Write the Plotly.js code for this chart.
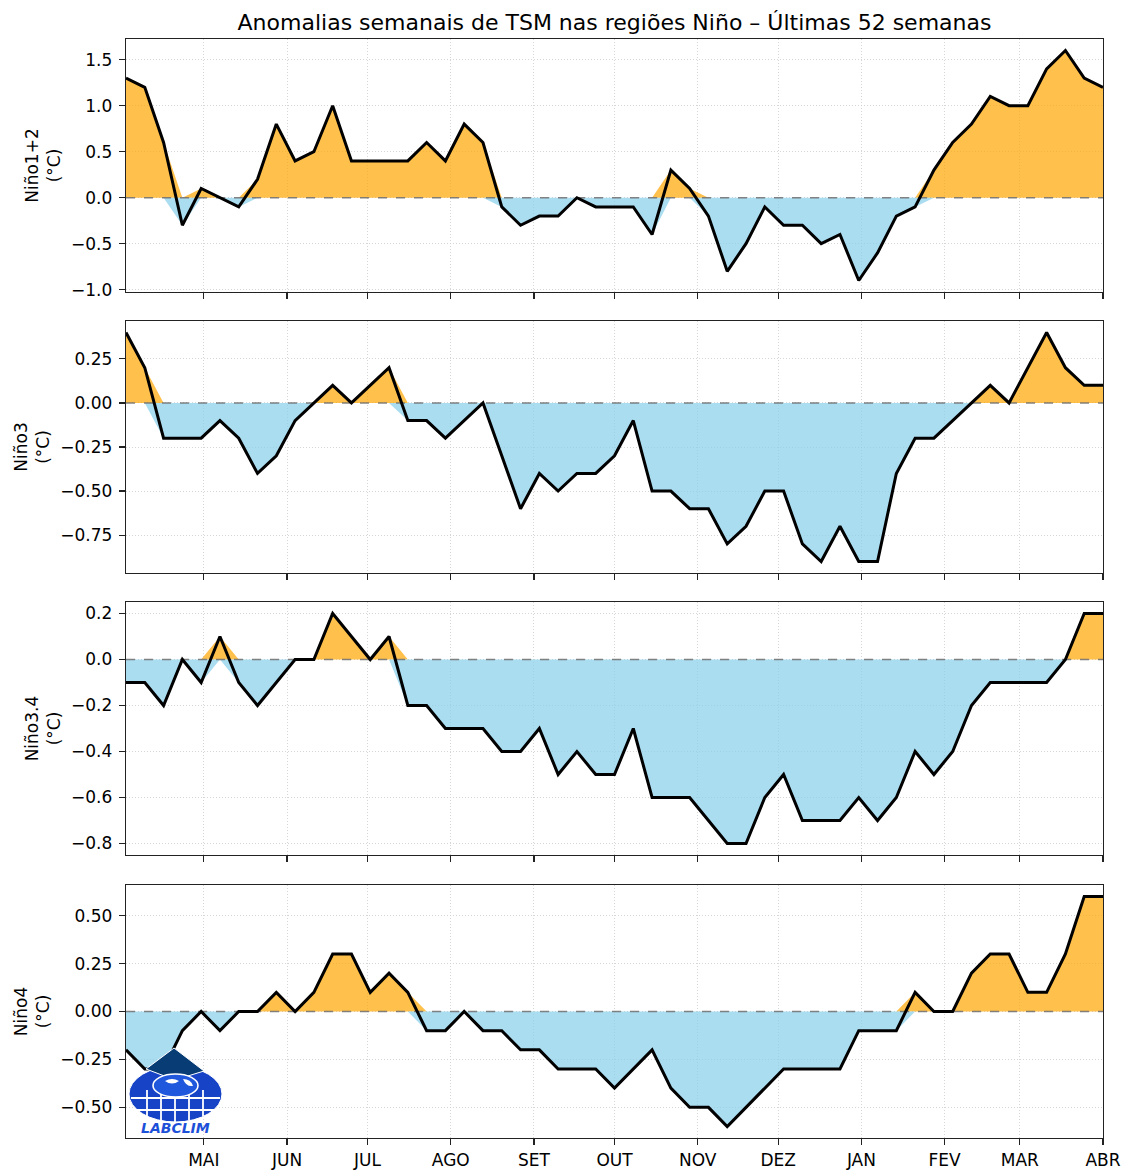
<!DOCTYPE html>
<html>
<head>
<meta charset="utf-8">
<script src="https://cdn.plot.ly/plotly-3.0.1.min.js"></script>
<style>
  html, body { margin: 0; padding: 0; background: #fff; }
  #chart { width: 1123px; height: 1171px; }
</style>
</head>
<body>
<div id="chart"></div>
<script>
// Weekly dates (52 weeks + 1)
const weeks = [
  '2024-04-02','2024-04-09','2024-04-16','2024-04-23','2024-04-30',
  '2024-05-07','2024-05-14','2024-05-21','2024-05-28',
  '2024-06-04','2024-06-11','2024-06-18','2024-06-25',
  '2024-07-02','2024-07-09','2024-07-16','2024-07-23','2024-07-30',
  '2024-08-06','2024-08-13','2024-08-20','2024-08-27',
  '2024-09-03','2024-09-10','2024-09-17','2024-09-24',
  '2024-10-01','2024-10-08','2024-10-15','2024-10-22','2024-10-29',
  '2024-11-05','2024-11-12','2024-11-19','2024-11-26',
  '2024-12-03','2024-12-10','2024-12-17','2024-12-24','2024-12-31',
  '2025-01-07','2025-01-14','2025-01-21','2025-01-28',
  '2025-02-04','2025-02-11','2025-02-18','2025-02-25',
  '2025-03-04','2025-03-11','2025-03-18','2025-03-25',
  '2025-04-01'
];

const nino12 = [1.3,1.2,0.6,-0.3,0.1,0.0,-0.1,0.2,0.8,0.4,0.5,1.0,0.4,0.4,0.4,0.4,0.6,0.4,0.8,0.6,-0.1,-0.3,-0.2,-0.2,0.0,-0.1,-0.1,
                -0.1,-0.4,0.3,0.1,-0.2,-0.8,-0.5,-0.1,-0.3,-0.3,-0.5,-0.4,-0.9,-0.6,-0.2,-0.1,0.3,0.6,0.8,1.1,1.0,1.0,1.4,1.6,1.3,1.2];
const nino3 = [0.4,0.2,-0.2,-0.2,-0.2,-0.1,-0.2,-0.4,-0.3,-0.1,0.0,0.1,0.0,0.1,0.2,-0.1,-0.1,-0.2,-0.1,0.0,-0.3,-0.6,-0.4,-0.5,-0.4,-0.4,-0.3,
               -0.1,-0.5,-0.5,-0.6,-0.6,-0.8,-0.7,-0.5,-0.5,-0.8,-0.9,-0.7,-0.9,-0.9,-0.4,-0.2,-0.2,-0.1,0.0,0.1,0.0,0.2,0.4,0.2,0.1,0.1];
const nino34 = [-0.1,-0.1,-0.2,0.0,-0.1,0.1,-0.1,-0.2,-0.1,0.0,0.0,0.2,0.1,0.0,0.1,-0.2,-0.2,-0.3,-0.3,-0.3,-0.4,-0.4,-0.3,-0.5,-0.4,-0.5,-0.5,
                -0.3,-0.6,-0.6,-0.6,-0.7,-0.8,-0.8,-0.6,-0.5,-0.7,-0.7,-0.7,-0.6,-0.7,-0.6,-0.4,-0.5,-0.4,-0.2,-0.1,-0.1,-0.1,-0.1,0.0,0.2,0.2];
const nino4 = [-0.2,-0.3,-0.3,-0.1,0.0,-0.1,0.0,0.0,0.1,0.0,0.1,0.3,0.3,0.1,0.2,0.1,-0.1,-0.1,0.0,-0.1,-0.1,-0.2,-0.2,-0.3,-0.3,-0.3,-0.4,
               -0.3,-0.2,-0.4,-0.5,-0.5,-0.6,-0.5,-0.4,-0.3,-0.3,-0.3,-0.3,-0.1,-0.1,-0.1,0.1,0.0,0.0,0.2,0.3,0.3,0.1,0.1,0.3,0.6,0.6];

const regionNames = ['Niño1+2','Niño3','Niño3.4','Niño4'];
const monthTickDates = ['2024-05-01','2024-06-01','2024-07-01','2024-08-01','2024-09-01','2024-10-01',
                        '2024-11-01','2024-12-01','2025-01-01','2025-02-01','2025-03-01','2025-04-01'];
const monthTickLabels = ['MAI','JUN','JUL','AGO','SET','OUT','NOV','DEZ','JAN','FEV','MAR','ABR'];
const titleText = 'Anomalias semanais de TSM nas regiões Niño – Últimas 52 semanas';

const series = [nino12, nino3, nino34, nino4];
const yRanges = [[-1.025, 1.725], [-0.965, 0.465], [-0.85, 0.25], [-0.66, 0.66]];
const yDticks = [0.5, 0.25, 0.2, 0.25];
const yFormats = ['.1f', '.2f', '.1f', '.2f'];
const domains = [[0.7698, 1.0], [0.5141, 0.7434], [0.2575, 0.4877], [0.0, 0.2302]];

const FONT = 'DejaVu Sans, sans-serif';
const ORANGE = 'rgba(255,165,0,0.7)';
const BLUE = 'rgba(135,206,235,0.7)';
const GRID = '#cccccc';

const traces = [];
const layout = {
  width: 1123, height: 1171,
  margin: {l: 126, r: 20, t: 39, b: 33},
  paper_bgcolor: '#fff', plot_bgcolor: '#fff',
  showlegend: false,
  font: {family: FONT, size: 16, color: '#000'},
  title: {text: titleText, x: 0.5, xref: 'paper', y: 1 - 22/1171, yref: 'container',
          yanchor: 'middle', xanchor: 'center', font: {family: FONT, size: 22, color: '#000'}},
  shapes: [], annotations: []
};

series.forEach((vals, i) => {
  const xa = i === 0 ? 'x' : 'x' + (i + 1);
  const ya = i === 0 ? 'y' : 'y' + (i + 1);
  traces.push({x: weeks, y: vals.map(v => Math.max(v, 0)), xaxis: xa, yaxis: ya, type: 'scatter', mode: 'lines',
               fill: 'tozeroy', fillcolor: ORANGE, line: {width: 0, color: 'rgba(0,0,0,0)'}, hoverinfo: 'skip'});
  traces.push({x: weeks, y: vals.map(v => Math.min(v, 0)), xaxis: xa, yaxis: ya, type: 'scatter', mode: 'lines',
               fill: 'tozeroy', fillcolor: BLUE, line: {width: 0, color: 'rgba(0,0,0,0)'}, hoverinfo: 'skip'});
  traces.push({x: [weeks[0], weeks[weeks.length - 1]], y: [0, 0], xaxis: xa, yaxis: ya, type: 'scatter', mode: 'lines',
               line: {color: 'rgba(110,110,110,0.85)', width: 1.4, dash: 'dash'}, hoverinfo: 'skip'});
  traces.push({x: weeks, y: vals, xaxis: xa, yaxis: ya, type: 'scatter', mode: 'lines',
               line: {color: '#000', width: 3}, hoverinfo: 'skip'});

  const xKey = i === 0 ? 'xaxis' : 'xaxis' + (i + 1);
  const yKey = i === 0 ? 'yaxis' : 'yaxis' + (i + 1);
  layout[xKey] = {
    type: 'date', anchor: ya, domain: [0, 1],
    range: [weeks[0], weeks[weeks.length - 1]],
    tickmode: 'array', tickvals: monthTickDates, ticktext: monthTickLabels,
    showticklabels: i === 3, ticks: 'outside', ticklen: 6, tickwidth: 1.2, tickcolor: '#222',
    tickfont: {family: FONT, size: 17, color: '#000'},
    showline: true, linecolor: '#222', linewidth: 1.3, mirror: true,
    showgrid: true, gridcolor: GRID, gridwidth: 0.8, griddash: '1px,2px', zeroline: false
  };
  layout[yKey] = {
    anchor: xa, domain: domains[i], range: yRanges[i],
    tickmode: 'linear', tick0: 0, dtick: yDticks[i], tickformat: yFormats[i],
    ticks: 'outside', ticklen: 6, tickwidth: 1.2, tickcolor: '#222', ticklabelstandoff: 3,
    tickfont: {family: FONT, size: 17, color: '#000'},
    showline: true, linecolor: '#222', linewidth: 1.3, mirror: true,
    showgrid: true, gridcolor: GRID, gridwidth: 0.8, griddash: '1px,2px', zeroline: false,
    title: {text: regionNames[i] + '<br>(°C)', standoff: 6, font: {family: FONT, size: 17, color: '#000'}}
  };
});

// LABCLIM logo approximation (decorative), placed in paper coordinates
const px = x => (x - 126) / 977;
const py = y => (1138 - y) / 1099;
const P = (x, y) => px(x).toFixed(5) + ',' + py(y).toFixed(5);
const logo = [];
// outer blue ellipse
logo.push({type: 'circle', xref: 'paper', yref: 'paper', layer: 'above',
  x0: px(129), x1: px(222), y0: py(1122), y1: py(1066), fillcolor: '#1744c6', line: {color: '#ffffff', width: 1}});
// navy diamond
logo.push({type: 'path', xref: 'paper', yref: 'paper', layer: 'above',
  path: 'M' + P(146, 1069) + ' L' + P(174, 1048) + ' L' + P(204, 1071) + ' L' + P(175, 1080) + ' Z',
  fillcolor: '#073c74', line: {color: '#ffffff', width: 1}});
// grid lines on the lower band
[[131, 220, 1098], [136, 215, 1110]].forEach(h => {
  logo.push({type: 'line', xref: 'paper', yref: 'paper', layer: 'above',
    x0: px(h[0]), x1: px(h[1]), y0: py(h[2]), y1: py(h[2]), line: {color: '#ffffff', width: 1.8}});
});
[[147, 1090, 1116], [161, 1092, 1120], [175, 1094, 1122], [189, 1092, 1120], [203, 1090, 1116]].forEach(v => {
  logo.push({type: 'line', xref: 'paper', yref: 'paper', layer: 'above',
    x0: px(v[0]), x1: px(v[0]), y0: py(v[1]), y1: py(v[2]), line: {color: '#ffffff', width: 1.8}});
});
// globe
logo.push({type: 'circle', xref: 'paper', yref: 'paper', layer: 'above',
  x0: px(153), x1: px(198), y0: py(1097), y1: py(1074), fillcolor: '#1f58dc', line: {color: '#ffffff', width: 1.6}});
// continents hint
logo.push({type: 'path', xref: 'paper', yref: 'paper', layer: 'above',
  path: 'M' + P(165, 1081) + ' Q' + P(172, 1077) + ' ' + P(179, 1081) + ' Q' + P(172, 1086) + ' ' + P(165, 1081) + ' Z',
  fillcolor: '#ffffff', line: {width: 0}});
logo.push({type: 'path', xref: 'paper', yref: 'paper', layer: 'above',
  path: 'M' + P(183, 1079) + ' Q' + P(191, 1079) + ' ' + P(193, 1086) + ' Q' + P(186, 1087) + ' ' + P(183, 1079) + ' Z',
  fillcolor: '#ffffff', line: {width: 0}});
layout.shapes = logo;
layout.annotations.push({xref: 'paper', yref: 'paper', x: px(175), y: py(1128), showarrow: false,
  text: '<b><i>LABCLIM</i></b>', font: {family: FONT, size: 14, color: '#1d50d8'}, xanchor: 'center', yanchor: 'middle'});

Plotly.newPlot('chart', traces, layout, {staticPlot: true, displayModeBar: false});
</script>
</body>
</html>
